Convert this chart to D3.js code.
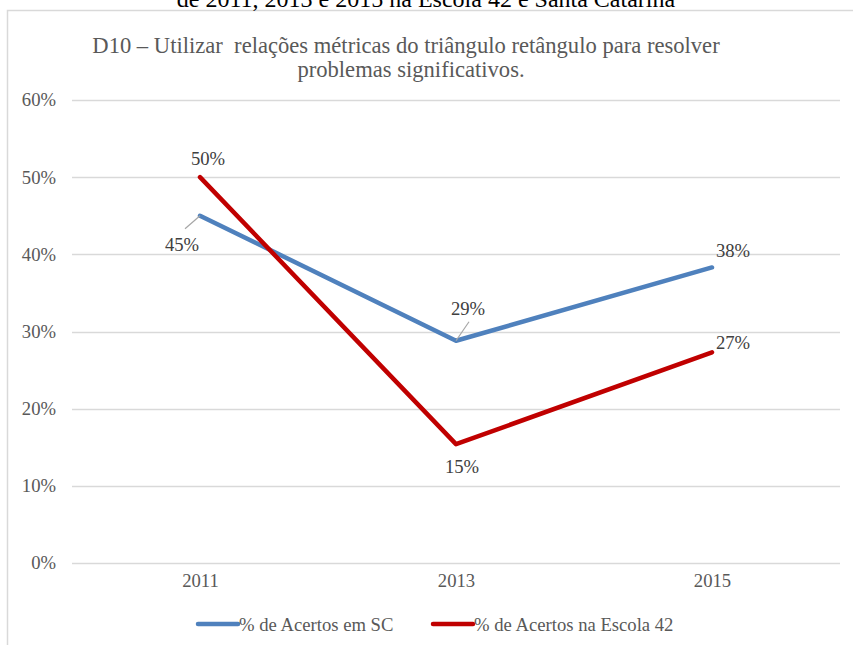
<!DOCTYPE html>
<html>
<head>
<meta charset="utf-8">
<script src="https://cdn.jsdelivr.net/npm/d3@7/dist/d3.min.js"></script>
<style>
  html, body { margin: 0; padding: 0; background: #ffffff; }
  svg { display: block; }
  text { font-family: "Liberation Serif", "Times New Roman", serif; }
</style>
</head>
<body>
<div id="chart"></div>
<script>
// ---- data ----
const years = ["2011", "2013", "2015"];
const seriesNames = ["% de Acertos em SC", "% de Acertos na Escola 42"];
const valuesSC = [0.45, 0.288, 0.383];
const valuesEscola = [0.50, 0.154, 0.273];
const yTicks = [0, 0.1, 0.2, 0.3, 0.4, 0.5, 0.6];
const topTitle = "de 2011, 2013 e 2015 na Escola 42 e Santa Catarina";
const subtitleLines = ["D10 \u2013 Utilizar  rela\u00e7\u00f5es m\u00e9tricas do tri\u00e2ngulo ret\u00e2ngulo para resolver", "problemas significativos."];

// ---- layout / style ----
const W = 853, H = 645;
const plot = { left: 72, right: 840, top: 100, bottom: 563 };
const colors = ["#4f81bd", "#c00000"];
// label offsets (dx, dy) relative to point, and leader line flag
const labelOffsets = [
  [[-18, 29, true], [12, -32, true], [21, -17, false]],
  [[8, -19, false], [6, 22, false], [21, -10, false]]
];

const svg = d3.select("#chart").append("svg").attr("width", W).attr("height", H);

// chart border
svg.append("rect").attr("x", 7.5).attr("y", 10.5).attr("width", 900).attr("height", 700)
  .attr("fill", "none").attr("stroke", "#d9d9d9").attr("stroke-width", 1.5);

// cut-off top title (as in the reference, only its lower part is visible)
svg.append("text").attr("x", 426).attr("y", 7).attr("text-anchor", "middle")
  .attr("font-size", 24).attr("fill", "#000").text(topTitle);

// subtitle
svg.append("g").selectAll("text").data(subtitleLines).join("text")
  .attr("x", (d, i) => i === 0 ? 406 : 411)
  .attr("y", (d, i) => 53 + i * 24)
  .attr("text-anchor", "middle").attr("font-size", 22.6).attr("fill", "#595959")
  .style("white-space", "pre").attr("xml:space", "preserve")
  .text(d => d);

const x = d3.scalePoint().domain(years).range([plot.left, plot.right]).padding(0.5);
const y = d3.scaleLinear().domain([0, 0.6]).range([plot.bottom, plot.top]);

// gridlines
svg.append("g").selectAll("line").data(yTicks).join("line")
  .attr("x1", plot.left).attr("x2", plot.right)
  .attr("y1", d => Math.round(y(d)) + 0.5).attr("y2", d => Math.round(y(d)) + 0.5)
  .attr("stroke", "#d9d9d9").attr("stroke-width", 1.3);

// y axis labels
const yAxis = d3.axisLeft(y).tickValues(yTicks).tickFormat(d3.format(".0%")).tickSize(0).tickPadding(0);
const gy = svg.append("g").attr("transform", `translate(56,0)`).call(yAxis);
gy.select(".domain").remove();
gy.selectAll("text").attr("font-family", "Liberation Serif, serif").attr("font-size", 18.67).attr("fill", "#595959");

// x axis labels
const xAxis = d3.axisBottom(x).tickSize(0).tickPadding(0);
const gx = svg.append("g").attr("transform", `translate(0,574)`).call(xAxis);
gx.select(".domain").remove();
gx.selectAll("text").attr("font-family", "Liberation Serif, serif").attr("font-size", 18.67).attr("fill", "#595959");

// lines
const allSeries = [valuesSC, valuesEscola];
const line = d3.line().x((d, i) => x(years[i])).y(d => y(d));
svg.append("g").selectAll("path").data(allSeries).join("path")
  .attr("d", d => line(d))
  .attr("fill", "none").attr("stroke", (d, i) => colors[i]).attr("stroke-width", 4.5)
  .attr("stroke-linecap", "round").attr("stroke-linejoin", "round");

// data labels
const fmt = d3.format(".0%");
allSeries.forEach((vals, s) => {
  const g = svg.append("g");
  vals.forEach((v, i) => {
    const px = x(years[i]), py = y(v);
    const [dx, dy, leader] = labelOffsets[s][i];
    if (leader) {
      const lx = dx < 0 ? px - 15 : px + 13;
      const ly = dy > 0 ? py + 13 : py - 19;
      g.append("line").attr("x1", px).attr("y1", py).attr("x2", lx).attr("y2", ly)
        .attr("stroke", "#a6a6a6").attr("stroke-width", 1.2);
    }
    g.append("text").attr("x", px + dx).attr("y", py + dy)
      .attr("text-anchor", "middle").attr("dominant-baseline", "central")
      .attr("font-size", 18.67).attr("fill", "#404040").text(fmt(v));
  });
});

// legend
const legendItems = [{ x1: 198, x2: 238 }, { x1: 433, x2: 473 }];
const lg = svg.append("g");
seriesNames.forEach((name, i) => {
  const it = legendItems[i];
  lg.append("line").attr("x1", it.x1).attr("x2", it.x2).attr("y1", 624).attr("y2", 624)
    .attr("stroke", colors[i]).attr("stroke-width", 4.5).attr("stroke-linecap", "round");
  lg.append("text").attr("x", it.x2 + 1).attr("y", 624).attr("dominant-baseline", "central")
    .attr("font-size", 18.67).attr("fill", "#595959").text(name);
});
</script>
</body>
</html>
